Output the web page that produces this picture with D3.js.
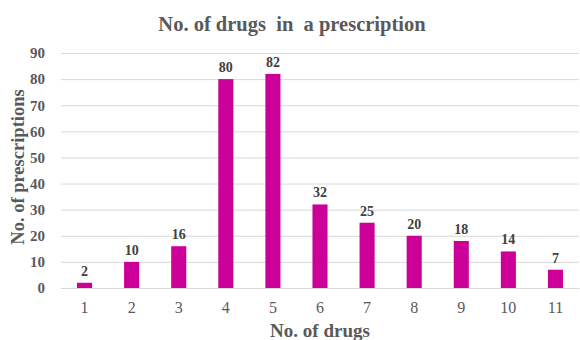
<!DOCTYPE html>
<html>
<head>
<meta charset="utf-8">
<script src="https://cdn.jsdelivr.net/npm/d3@7"></script>
<style>
	body { margin: 0; background: #fff; }
	svg text { font-family: "Liberation Serif", "Times New Roman", Tinos, "DejaVu Serif", serif; }
</style>
</head>
<body>
<div id="chart-area"></div>
<script>
// Data
var drugCounts = ["1", "2", "3", "4", "5", "6", "7", "8", "9", "10", "11"];
var prescriptions = [2, 10, 16, 80, 82, 32, 25, 20, 18, 14, 7];
var yTicks = [0, 10, 20, 30, 40, 50, 60, 70, 80, 90];

var data = drugCounts.map((d, i) => { return {name: d, value: prescriptions[i]}; });

// Setup the canvas
var margin = {top: 53, right: 1, bottom: 52, left: 61 };
var width = 580 - margin.left - margin.right;
var height = 340 - margin.top - margin.bottom;

var svg = d3.select("#chart-area").append("svg")
	.attr("width", 580)
	.attr("height", 340);

var g = svg.append("g")
	.attr("transform", "translate(" + margin.left + ", " + margin.top + ")");

// Title and axis labels
svg.append("text")
	.attr("x", 292)
	.attr("y", 31)
	.attr("font-size", "20.5px")
	.attr("font-weight", "bold")
	.attr("fill", "#595959")
	.attr("text-anchor", "middle")
	.attr("xml:space", "preserve")
	.text("No. of drugs  in  a prescription");

svg.append("text")
	.attr("x", margin.left + width / 2)
	.attr("y", 337)
	.attr("font-size", "19px")
	.attr("font-weight", "bold")
	.attr("fill", "#595959")
	.attr("text-anchor", "middle")
	.text("No. of drugs");

svg.append("text")
	.attr("x", -167)
	.attr("y", 24)
	.attr("font-size", "18.5px")
	.attr("font-weight", "bold")
	.attr("fill", "#595959")
	.attr("text-anchor", "middle")
	.attr("transform", "rotate(-90)")
	.text("No. of prescriptions");

// Scales
var x = d3.scaleBand()
	.domain(drugCounts)
	.range([0, width])
	.paddingInner(0.68)
	.paddingOuter(0.34);

var y = d3.scaleLinear()
	.domain([0, 90])
	.range([height, 0]);

// Gridlines
g.append("g")
	.attr("class", "grid")
	.call(d3.axisLeft(y).tickValues(yTicks).tickSize(-width).tickFormat(""))
	.call((sel) => sel.select(".domain").remove())
	.selectAll("line")
		.attr("stroke", "#d9d9d9");

// Y axis
var yAxis = g.append("g")
	.attr("class", "y axis")
	.call(d3.axisLeft(y).tickValues(yTicks).tickSize(0).tickPadding(16));
yAxis.select(".domain").remove();
yAxis.selectAll("text")
	.attr("font-size", "15px")
	.attr("font-weight", "bold")
	.attr("fill", "#595959");

// X axis
var xAxis = g.append("g")
	.attr("class", "x axis")
	.attr("transform", "translate(0, " + height + ")")
	.call(d3.axisBottom(x).tickSize(0).tickPadding(14));
xAxis.select(".domain").attr("stroke", "#d9d9d9");
xAxis.selectAll("text")
	.attr("font-size", "16px")
	.attr("fill", "#595959");

// Bars
g.selectAll("rect.bar").data(data).enter()
	.append("rect")
		.attr("class", "bar")
		.attr("x", (d) => x(d.name))
		.attr("y", (d) => y(d.value))
		.attr("width", x.bandwidth())
		.attr("height", (d) => height - y(d.value))
		.attr("fill", "#cc0099");

// Value labels
g.selectAll("text.label").data(data).enter()
	.append("text")
		.attr("class", "label")
		.attr("x", (d) => x(d.name) + x.bandwidth() / 2)
		.attr("y", (d) => y(d.value) - 7)
		.attr("text-anchor", "middle")
		.attr("font-size", "14px")
		.attr("font-weight", "bold")
		.attr("fill", "#404040")
		.text((d) => d.value);
</script>
</body>
</html>
